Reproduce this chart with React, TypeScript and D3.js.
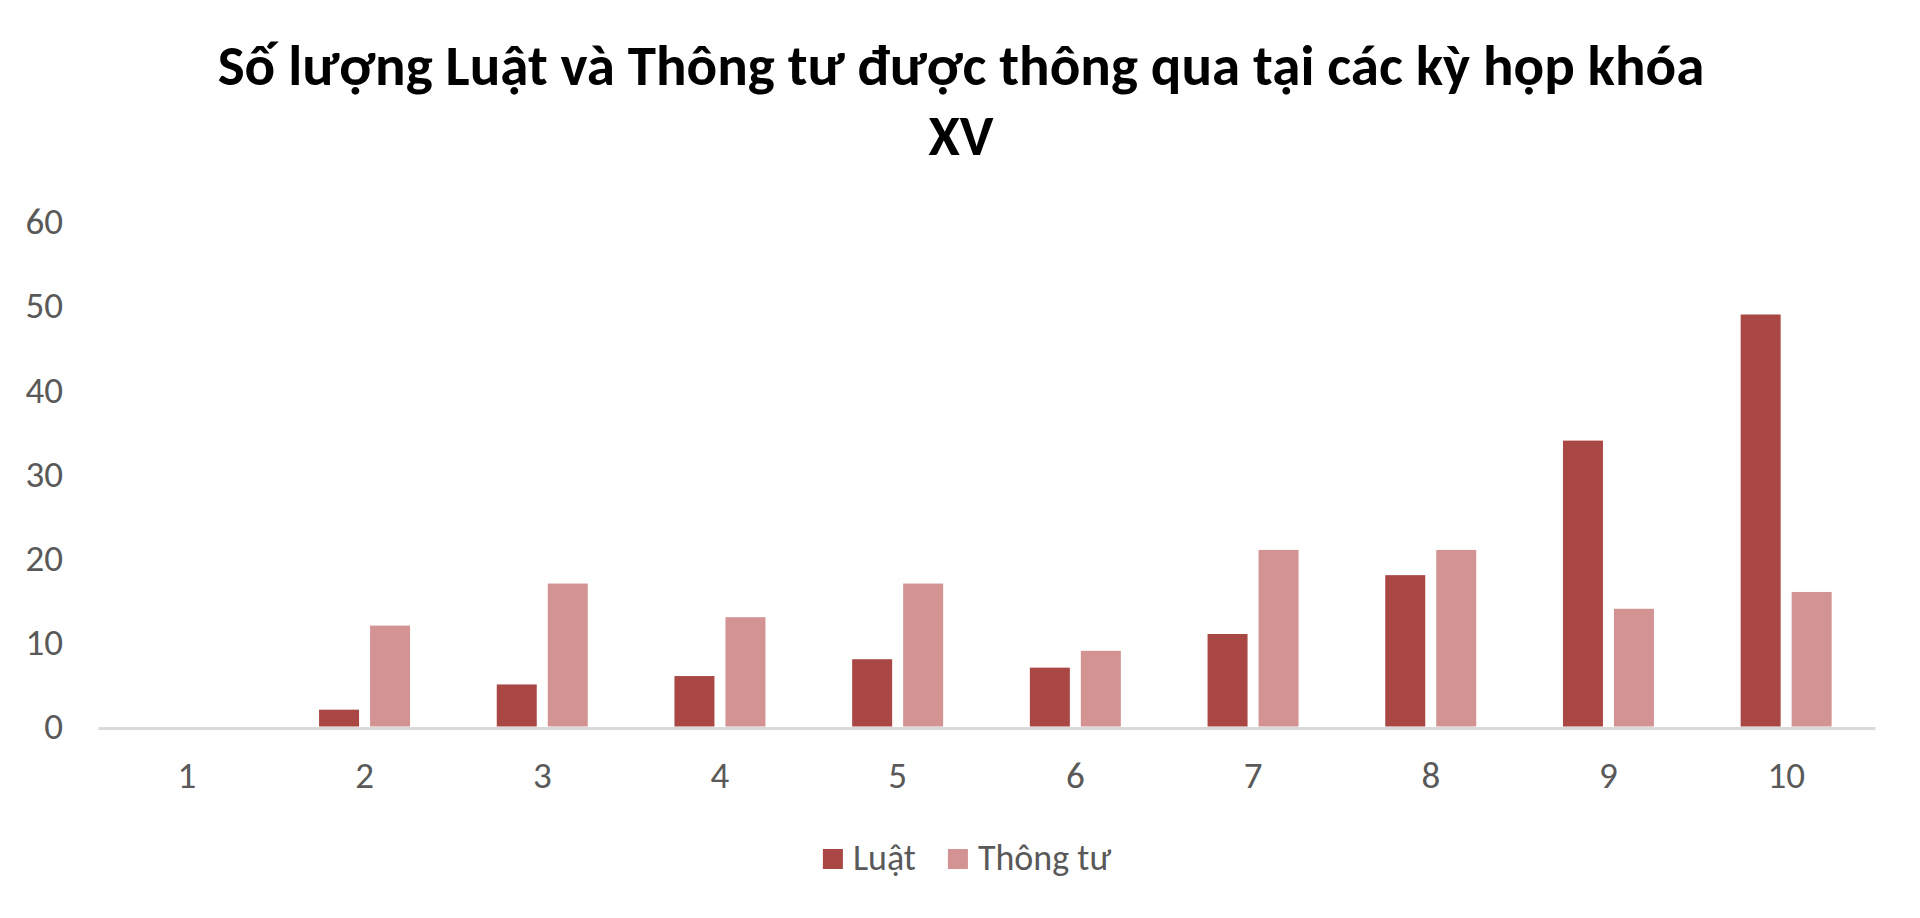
import { useEffect, useRef } from 'react';
import * as d3 from 'd3';

const WIDTH = 1920;
const HEIGHT = 918;
const FONT = 'Carlito, Lato, "Open Sans", sans-serif';

const TITLE_LINES = ['Số lượng Luật và Thông tư được thông qua tại các kỳ họp khóa', 'XV'];
const CATEGORIES = ['1', '2', '3', '4', '5', '6', '7', '8', '9', '10'];
const SERIES = ['Luật', 'Thông tư'];
const LUAT = [0, 2, 5, 6, 8, 7, 11, 18, 34, 49];
const THONG_TU = [0, 12, 17, 13, 17, 9, 21, 21, 14, 16];
const Y_TICKS = [0, 10, 20, 30, 40, 50, 60];
const COLORS = ['#A94745', '#D39392'];

const MARGIN = { top: 222, right: 45, bottom: 190, left: 98 };
const LABEL_SIZE = 37;
const LEGEND_SIZE = 36;

export default function App() {
  const svgRef = useRef<SVGSVGElement>(null);

  useEffect(() => {
    if (!svgRef.current) return;
    const svg = d3.select(svgRef.current);
    svg.selectAll('*').remove();

    const innerWidth = WIDTH - MARGIN.left - MARGIN.right;
    const baseY = HEIGHT - MARGIN.bottom;

    const values = [LUAT, THONG_TU];

    const x0 = d3.scaleBand<string>()
      .domain(CATEGORIES)
      .range([MARGIN.left, MARGIN.left + innerWidth])
      .padding(0);

    // inner band: 2 bars of ~40px with an ~11px gap, centred in the category
    const groupWidth = x0.bandwidth() * 0.512;
    const x1 = d3.scaleBand<string>()
      .domain(SERIES)
      .range([(x0.bandwidth() - groupWidth) / 2, (x0.bandwidth() + groupWidth) / 2])
      .paddingInner(0.2157)
      .paddingOuter(0);

    const y = d3.scaleLinear().domain([0, 60]).range([baseY - 1.5, MARGIN.top]);

    // Title
    const title = svg.append('g');
    TITLE_LINES.forEach((line, i) => {
      title.append('text')
        .attr('x', 961)
        .attr('y', 85 + i * 70)
        .attr('text-anchor', 'middle')
        .style('font-family', FONT)
        .style('font-size', '57px')
        .style('font-weight', 700)
        .style('fill', '#000')
        .text(line);
    });
    // keep the long first line at the reference width
    const first = title.select<SVGTextElement>('text').node();
    if (first && Math.abs(first.getComputedTextLength() - 1498) > 30) {
      d3.select(first).attr('textLength', 1498).attr('lengthAdjust', 'spacingAndGlyphs');
    }

    // Y axis labels (no axis line)
    const yAxis = svg.append('g')
      .attr('transform', `translate(${MARGIN.left},0)`)
      .call(d3.axisLeft(y).tickValues(Y_TICKS).tickSize(0).tickPadding(35));
    yAxis.select('.domain').remove();
    yAxis.selectAll('text')
      .style('font-family', FONT)
      .style('font-size', `${LABEL_SIZE}px`)
      .style('fill', '#595959');

    // Bars
    SERIES.forEach((s, si) => {
      svg.append('g')
        .selectAll('rect')
        .data(values[si])
        .join('rect')
        .attr('x', (_, i) => (x0(CATEGORIES[i]) ?? 0) + (x1(s) ?? 0))
        .attr('y', (d) => y(d))
        .attr('width', x1.bandwidth())
        .attr('height', (d) => y(0) - y(d))
        .attr('fill', COLORS[si]);
    });

    // X axis line + labels
    const xAxis = svg.append('g')
      .attr('transform', `translate(0,${baseY})`)
      .call(d3.axisBottom(x0).tickSize(0).tickPadding(34));
    xAxis.select('.domain')
      .style('stroke', '#D9D9D9')
      .style('stroke-width', 3);
    xAxis.selectAll('text')
      .style('font-family', FONT)
      .style('font-size', `${LABEL_SIZE}px`)
      .style('fill', '#595959');

    // Legend
    const legend = svg.append('g');
    let lx = 0;
    SERIES.forEach((s, si) => {
      const item = legend.append('g').attr('transform', `translate(${lx},0)`);
      item.append('rect')
        .attr('x', 0)
        .attr('y', -10)
        .attr('width', 20)
        .attr('height', 20)
        .attr('fill', COLORS[si]);
      const t = item.append('text')
        .attr('x', 30)
        .attr('y', 11)
        .style('font-family', FONT)
        .style('font-size', `${LEGEND_SIZE}px`)
        .style('fill', '#595959')
        .text(s);
      const w = (t.node() as SVGTextElement).getComputedTextLength();
      lx += 30 + w + 32;
    });
    const legendWidth = lx - 32;
    legend.attr('transform', `translate(${967 - legendWidth / 2},859)`);
  }, []);

  return (
    <svg
      ref={svgRef}
      width={WIDTH}
      height={HEIGHT}
      style={{ position: 'absolute', left: 0, top: 0, background: '#fff' }}
    />
  );
}
